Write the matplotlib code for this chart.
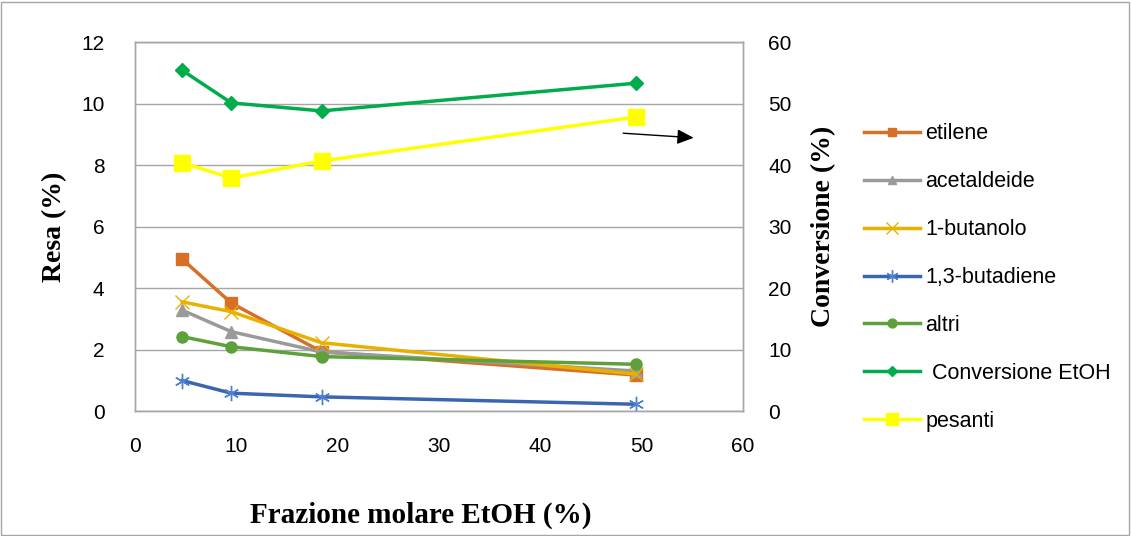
import matplotlib.pyplot as plt
from matplotlib.patches import Rectangle

x = [4.65, 9.5, 18.4, 49.4]
etilene = [4.94, 3.51, 1.93, 1.17]
acetaldeide = [3.28, 2.58, 1.92, 1.3]
butanolo = [3.55, 3.23, 2.22, 1.2]
butadiene = [0.99, 0.58, 0.46, 0.22]
altri = [2.42, 2.09, 1.77, 1.52]
conversione = [55.4, 50.1, 48.8, 53.3]
pesanti = [8.07, 7.58, 8.13, 9.56]

tick_font = 'Liberation Sans'
lab_font = 'Liberation Serif'

fig = plt.figure(figsize=(11.31, 5.36), dpi=100)
fig.patches.append(Rectangle((0.001, 0.002), 0.997, 0.995, transform=fig.transFigure,
                             fill=False, edgecolor='#a6a6a6', lw=1))
ax = fig.add_axes([0.1194, 0.2332, 0.5376, 0.6884])
ax2 = ax.twinx()

l1, = ax.plot(x, etilene, color='#d86f27', marker='s', ms=8, lw=2.5, label='etilene')
l2, = ax.plot(x, acetaldeide, color='#9a9a9a', marker='^', ms=8, lw=2.5, label='acetaldeide')
l3, = ax.plot(x, butanolo, color='#e8b100', marker='x', ms=10, mew=1, lw=2.5, label='1-butanolo')
l4, = ax.plot(x, butadiene, color='#3a66b0', marker=(6, 2, 0), ms=11, mew=1, lw=2.5,
              mec='#4f7fd0', label='1,3-butadiene')
l5, = ax.plot(x, altri, color='#5ea13a', marker='o', ms=8, lw=2.5, label='altri')
l6, = ax2.plot(x, conversione, color='#00ac4c', marker='D', ms=7, lw=2.5, label=' Conversione EtOH')
l7, = ax.plot(x, pesanti, color='#ffff00', marker='s', ms=11, lw=2.5, label='pesanti')

ax.annotate('', xy=(55.4, 8.88), xytext=(47.9, 9.04),
            arrowprops=dict(arrowstyle='-|>,head_length=1.0,head_width=0.45', color='black', lw=1))

ax.set_xlim(0, 60)
ax.set_ylim(0, 12)
ax2.set_ylim(0, 60)
ax.set_xticks(range(0, 61, 10))
ax.set_yticks(range(0, 13, 2))
ax2.set_yticks(range(0, 61, 10))
ax.yaxis.grid(True, color='#a6a6a6', lw=1)
ax.set_axisbelow(True)
for a in (ax, ax2):
    for s in a.spines.values():
        s.set_color('#a6a6a6')
        s.set_linewidth(1)
    a.tick_params(length=0, labelsize=15)
    for t in a.get_xticklabels() + a.get_yticklabels():
        t.set_fontfamily(tick_font)
ax.tick_params(axis='x', pad=19)
ax.tick_params(axis='y', pad=22)
ax2.tick_params(axis='y', pad=18)

ax.set_xlabel('Frazione molare EtOH (%)', fontfamily=lab_font, fontweight='bold', fontsize=21, labelpad=34)
ax.xaxis.set_label_coords(0.47, -0.245)
ax.set_ylabel('Resa (%)', fontfamily=lab_font, fontweight='bold', fontsize=20, labelpad=10)
ax2.set_ylabel('Conversione (%)', fontfamily=lab_font, fontweight='bold', fontsize=20, labelpad=14)

leg = fig.legend(handles=[l1, l2, l3, l4, l5, l6, l7], loc='upper left', bbox_to_anchor=(0.747, 0.806),
                 frameon=False, prop={'family': tick_font, 'size': 15.5}, labelspacing=1.25,
                 handlelength=2.6, handletextpad=0.25, markerscale=0.8)

fig.savefig('out.png', dpi=100)
